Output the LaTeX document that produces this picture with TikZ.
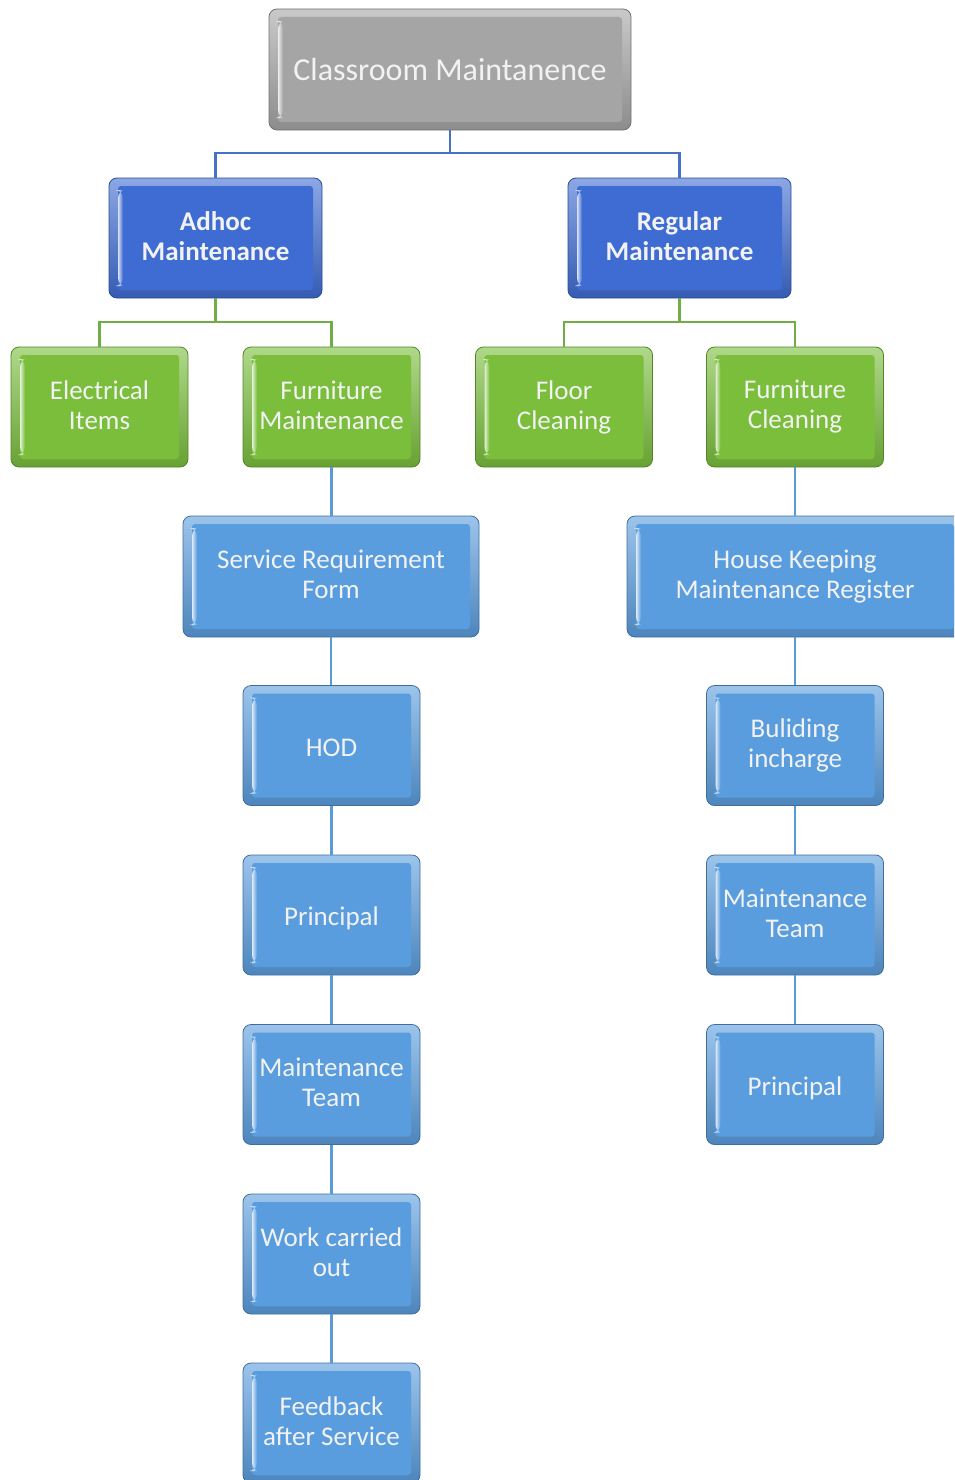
\documentclass[tikz,border=0pt]{standalone}
\usepackage{fontspec}
\setmainfont{Carlito}
\newcommand\boxstrut{\rule[-4pt]{0pt}{30pt}}
\definecolor{cgray}{RGB}{165,165,165}
\definecolor{cdblue}{RGB}{62,108,210}
\definecolor{cgreen}{RGB}{122,190,60}
\definecolor{clblue}{RGB}{90,157,222}
\definecolor{ldblue}{RGB}{68,114,196}
\definecolor{lgreen}{RGB}{112,173,71}
\definecolor{llblue}{RGB}{91,155,213}
\tikzset{
  box/.style={rectangle, rounded corners=8pt, draw=#1!70!black, line width=0.8pt,
    top color=#1!60!white, bottom color=#1!85!black, text=white!95!black, align=center,
    font=\fontsize{27}{30}\selectfont, inner sep=0pt,
    execute at begin node=\boxstrut, execute at end node=\boxstrut,
    minimum width=177pt, minimum height=120pt,
    path picture={
      \fill[#1, rounded corners=3pt] ([xshift=9pt,yshift=-8pt]path picture bounding box.north west) rectangle ([xshift=-9pt,yshift=8pt]path picture bounding box.south east);
      \shade[left color=white, right color=#1, opacity=0.8] ([xshift=9pt,yshift=-12pt]path picture bounding box.north west) rectangle ([xshift=14pt,yshift=12pt]path picture bounding box.south west);
    }},
  conn/.style={draw=#1, line width=2.2pt},
}
\begin{document}
\begin{tikzpicture}[x=1pt,y=-1pt]
\useasboundingbox (0,0) rectangle (954,1480);
\clip (0,0) rectangle (954,1480);
% nodes
\node[box=cgray, minimum width=362pt, minimum height=121pt, font=\fontsize{32}{35}\selectfont] (root) at (450,69.5) {Classroom Maintanence};
\node[box=cdblue, minimum width=213pt, font=\fontsize{27}{30}\selectfont\bfseries] (adhoc) at (215.5,238) {Adhoc\\Maintenance};
\node[box=cdblue, minimum width=223pt, font=\fontsize{27}{30}\selectfont\bfseries] (regular) at (679.5,238) {Regular\\Maintenance};
\node[box=cgreen] (elec) at (99.5,407) {Electrical\\Items};
\node[box=cgreen] (furnm) at (331.5,407) {Furniture\\Maintenance};
\node[box=cgreen] (floor) at (564,407) {Floor\\Cleaning};
\node[box=cgreen] (furnc) at (795,407) {Furniture\\Cleaning};
\node[box=clblue, minimum width=296pt, minimum height=121pt] (srf) at (331,576.5) {Service Requirement\\Form};
\node[box=clblue, minimum width=336pt, minimum height=121pt] (hk) at (795,576.5) {House Keeping\\Maintenance Register};
\node[box=clblue] (hod) at (331.5,745.5) {HOD};
\node[box=clblue] (prin1) at (331.5,915) {Principal};
\node[box=clblue] (mt1) at (331.5,1084.5) {Maintenance\\Team};
\node[box=clblue] (work) at (331.5,1254) {Work carried\\out};
\node[box=clblue] (feed) at (331.5,1423) {Feedback\\after Service};
\node[box=clblue] (bui) at (795,745.5) {Buliding\\incharge};
\node[box=clblue] (mt2) at (795,915) {Maintenance\\Team};
\node[box=clblue] (prin2) at (795,1084.5) {Principal};
% junctions
\coordinate (j1) at (450,153);
\coordinate (j2) at (215.5,322);
\coordinate (j3) at (679.5,322);
% connectors
\draw[conn=ldblue] (root.south) -- (j1);
\draw[conn=ldblue] (adhoc.north) |- (j1) -| (regular.north);
\draw[conn=lgreen] (adhoc.south) -- (j2);
\draw[conn=lgreen] (elec.north) |- (j2) -| (furnm.north);
\draw[conn=lgreen] (regular.south) -- (j3);
\draw[conn=lgreen] (floor.north) |- (j3) -| (furnc.north);
\draw[conn=llblue] (furnm.south) -- (furnm.south |- srf.north);
\draw[conn=llblue] (srf.south) -- (srf.south |- hod.north);
\draw[conn=llblue] (hod.south) -- (prin1.north);
\draw[conn=llblue] (prin1.south) -- (mt1.north);
\draw[conn=llblue] (mt1.south) -- (work.north);
\draw[conn=llblue] (work.south) -- (feed.north);
\draw[conn=llblue] (furnc.south) -- (hk.north);
\draw[conn=llblue] (hk.south) -- (bui.north);
\draw[conn=llblue] (bui.south) -- (mt2.north);
\draw[conn=llblue] (mt2.south) -- (prin2.north);
\end{tikzpicture}
\end{document}
